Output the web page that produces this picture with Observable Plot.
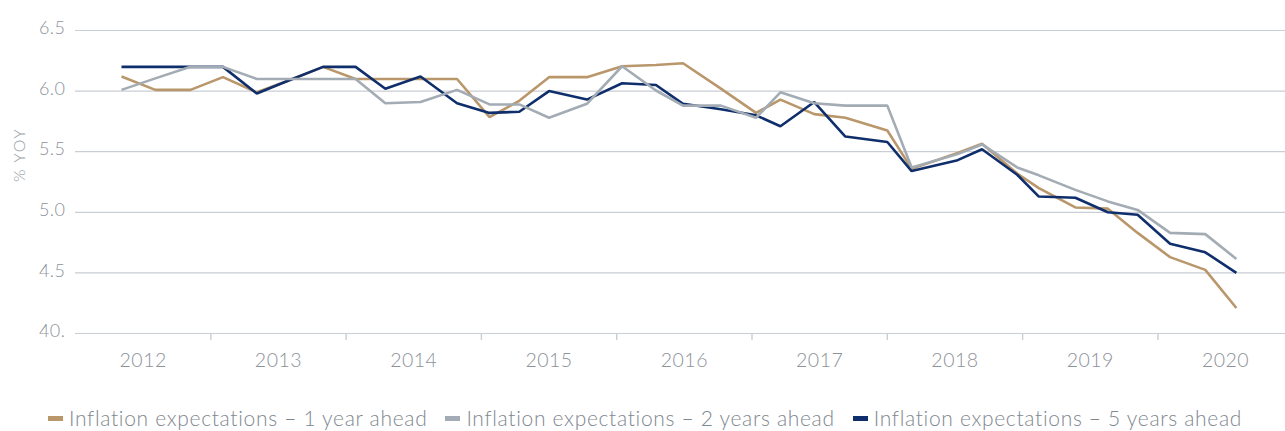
<!DOCTYPE html>
<html>
<head>
<meta charset="utf-8">
<script src="https://cdn.jsdelivr.net/npm/d3@7"></script>
<script src="https://cdn.jsdelivr.net/npm/@observablehq/plot@0.6"></script>
<style>
  html, body { margin: 0; padding: 0; background: #ffffff; }
  body { font-family: Lato, "Open Sans", sans-serif; font-weight: 300; width: 1285px; overflow: hidden; }
  #legend { display: flex; align-items: center; padding-left: 48px; margin-top: 25px; color: #80878f; font-size: 21px; letter-spacing: 0.68px; line-height: 26px; white-space: nowrap; }
  .item { display: flex; align-items: center; margin-right: 18px; }
  .sw { width: 15px; height: 5px; margin-right: 6px; }
</style>
</head>
<body>
<div id="chart"></div>
<div id="legend"></div>
<script>
// Survey dates (decimal years)
const dates = [2012.34, 2012.59, 2012.85, 2013.09, 2013.34, 2013.58, 2013.83, 2014.07, 2014.29, 2014.55,
  2014.82, 2015.06, 2015.28, 2015.50, 2015.78, 2016.04, 2016.29, 2016.49, 2016.77, 2017.03,
  2017.21, 2017.46, 2017.69, 2018.00, 2018.18, 2018.52, 2018.70, 2018.96, 2019.12, 2019.39,
  2019.63, 2019.85, 2020.09, 2020.35, 2020.58];

const oneYear = [6.12, 6.01, 6.01, 6.115, 5.99, 6.09, 6.20, 6.10, 6.10, 6.10,
  6.10, 5.785, 5.92, 6.115, 6.115, 6.205, 6.215, 6.23, 6.02, 5.82,
  5.93, 5.81, 5.78, 5.675, 5.36, 5.49, 5.565, 5.32, 5.20, 5.04,
  5.03, 4.83, 4.63, 4.525, 4.21];

const twoYears = [6.01, 6.105, 6.20, 6.20, 6.10, 6.10, 6.10, 6.10, 5.90, 5.91,
  6.01, 5.89, 5.89, 5.78, 5.895, 6.205, 6.005, 5.88, 5.88, 5.78,
  5.99, 5.90, 5.88, 5.88, 5.37, 5.48, 5.56, 5.37, 5.305, 5.185,
  5.09, 5.02, 4.83, 4.82, 4.615];

const fiveYears = [6.20, 6.20, 6.20, 6.20, 5.98, 6.09, 6.20, 6.20, 6.02, 6.12,
  5.90, 5.82, 5.83, 6.00, 5.93, 6.065, 6.05, 5.895, 5.85, 5.80,
  5.71, 5.91, 5.625, 5.58, 5.34, 5.43, 5.52, 5.31, 5.13, 5.12,
  5.00, 4.98, 4.74, 4.67, 4.50];

const seriesNames = [
  "Inflation expectations \u2013 1 year ahead",
  "Inflation expectations \u2013 2 years ahead",
  "Inflation expectations \u2013 5 years ahead"
];
const seriesColors = ["#b9976b", "#a3acb4", "#0f2e6c"];
const drawOrder = [0, 2, 1];

const years = [2012, 2013, 2014, 2015, 2016, 2017, 2018, 2019, 2020];
const yearBoundaries = [2013, 2014, 2015, 2016, 2017, 2018, 2019, 2020];
const yTicks = [4.0, 4.5, 5.0, 5.5, 6.0, 6.5];
const yTickLabels = ["40.", "4.5", "5.0", "5.5", "6.0", "6.5"];
const yAxisTitle = "% YOY";

const seriesValues = [oneYear, twoYears, fiveYears];
const rows = [];
drawOrder.forEach(si => {
  dates.forEach((d, i) => rows.push({date: d, value: seriesValues[si][i], series: seriesNames[si]}));
});

const textColor = "#8c9299";
const gridColor = "#c9cdd5";

const chart = Plot.plot({
  width: 1285,
  height: 380,
  marginLeft: 75,
  marginRight: 0,
  marginTop: 30,
  marginBottom: 47,
  style: {fontFamily: "Lato, 'Open Sans', sans-serif", fontWeight: 300, color: textColor, background: "transparent"},
  x: {domain: [2012, 2020.943], axis: null},
  y: {domain: [4.0, 6.5], axis: null},
  color: {domain: seriesNames, range: seriesColors},
  marks: [
    Plot.gridY(yTicks, {stroke: gridColor, strokeOpacity: 1, strokeWidth: 1.2}),
    Plot.axisY(yTicks, {
      tickSize: 0, tickPadding: 10, label: null, dy: -2,
      tickFormat: d => yTickLabels[yTicks.indexOf(d)],
      fill: textColor, fontSize: 18
    }),
    Plot.axisX(yearBoundaries, {tickSize: 7, tickFormat: () => "", stroke: gridColor, strokeWidth: 1.4, label: null}),
    Plot.axisX(years.map(y => y + 0.5), {
      tickSize: 0, tickPadding: 20, label: null,
      tickFormat: d => String(Math.floor(d)), fill: textColor, fontSize: 19.5
    }),
    Plot.text([yAxisTitle], {frameAnchor: "left", rotate: -90, dx: -56, fontSize: 16, fill: "#9aa0a6", fontWeight: 300}),
    Plot.line(rows, {x: "date", y: "value", z: "series", stroke: "series", strokeWidth: 2.6, strokeLinejoin: "miter", strokeLinecap: "butt"})
  ]
});
// slight letter spacing to match the reference's wide type
d3.select(chart).selectAll("text").attr("letter-spacing", "0.5px");
d3.select(chart).selectAll("text").filter(function() { return this.textContent === yAxisTitle; })
  .attr("font-size", 16).style("font-size", "16px").attr("letter-spacing", "1.5px");
document.getElementById("chart").appendChild(chart);

const legend = document.getElementById("legend");
seriesNames.forEach((name, i) => {
  const item = document.createElement("div");
  item.className = "item";
  const sw = document.createElement("span");
  sw.className = "sw";
  sw.style.background = seriesColors[i];
  const label = document.createElement("span");
  label.textContent = name;
  item.appendChild(sw);
  item.appendChild(label);
  legend.appendChild(item);
});
</script>
</body>
</html>
